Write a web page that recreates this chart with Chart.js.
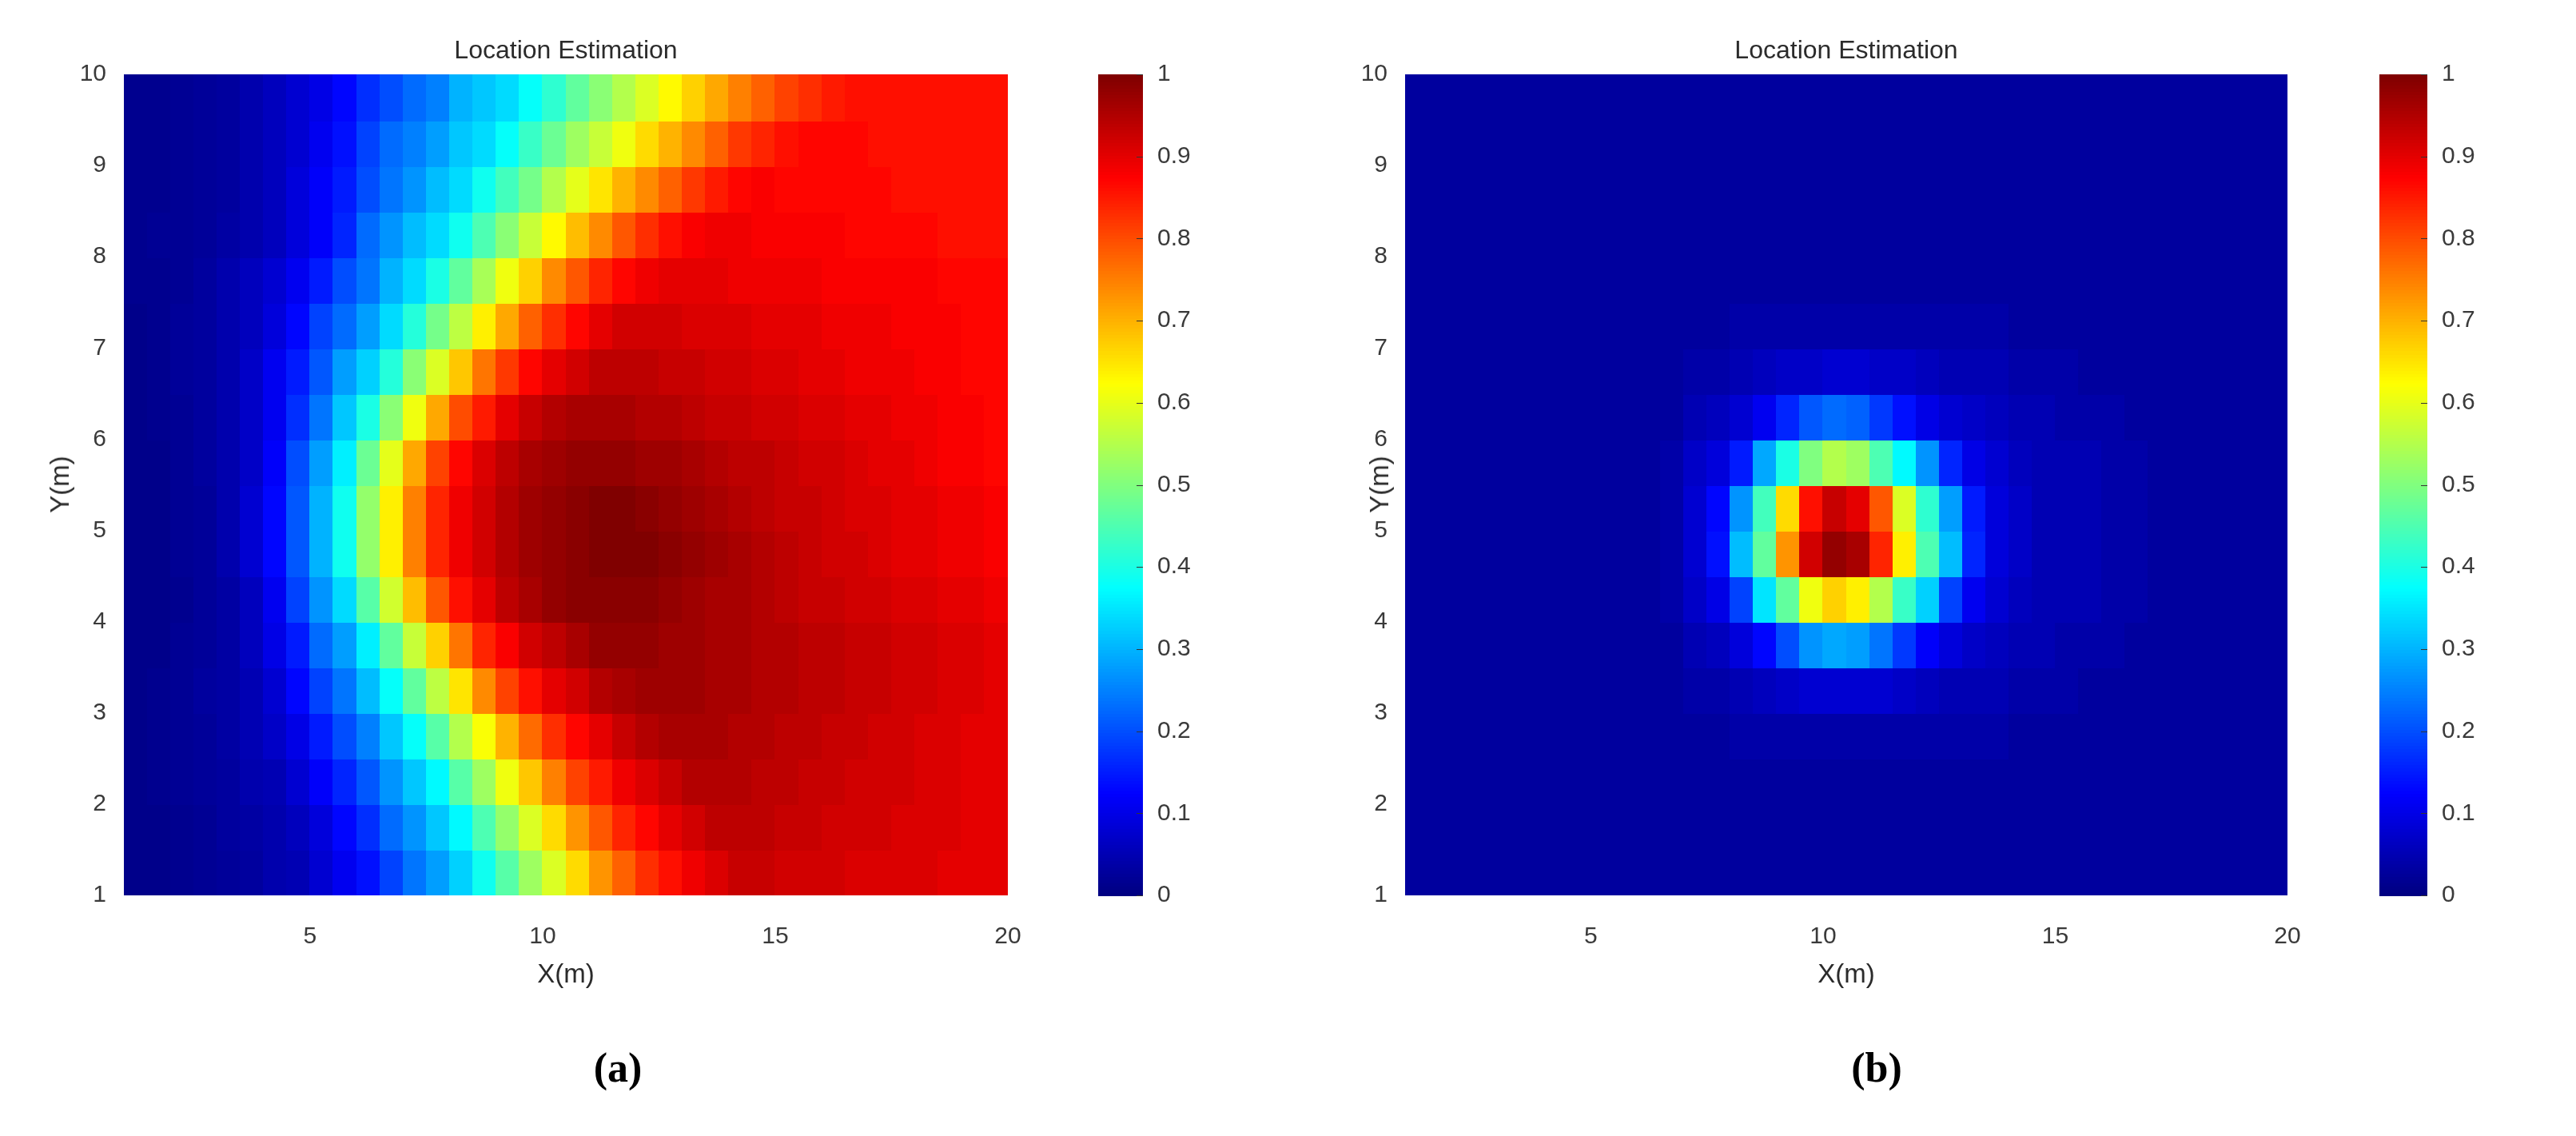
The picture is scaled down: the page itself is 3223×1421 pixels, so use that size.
<!DOCTYPE html>
<html><head><meta charset="utf-8">
<script src="https://cdn.jsdelivr.net/npm/chart.js@4.4.1/dist/chart.umd.min.js"></script>
<style>
html,body{margin:0;padding:0;background:#fff;width:3223px;height:1421px;overflow:hidden;font-family:"Liberation Sans",Arial,sans-serif;color:#333}
canvas{position:absolute;top:0}
.t{position:absolute;white-space:nowrap;transform:translate(-50%,-50%);color:#2b2b2b}
.cap{font-family:"Liberation Serif","DejaVu Serif",serif;font-weight:bold;font-size:52px;color:#000}
</style></head><body>
<canvas id="ca" style="left:0px" width="1611" height="1421"></canvas>
<canvas id="cba" style="left:1300px" width="250" height="1421"></canvas>
<canvas id="cb" style="left:1611px" width="1612" height="1421"></canvas>
<canvas id="cbb" style="left:2900px" width="250" height="1421"></canvas>
<div class="t" style="left:708px;top:62px;font-size:32px">Location Estimation</div>
<div class="t" style="left:2310px;top:62px;font-size:32px">Location Estimation</div>
<div class="t" style="left:708px;top:1218px;font-size:33px">X(m)</div>
<div class="t" style="left:2310px;top:1218px;font-size:33px">X(m)</div>
<div class="t" style="left:75px;top:606px;font-size:33px;transform:translate(-50%,-50%) rotate(-90deg)">Y(m)</div>
<div class="t" style="left:1726px;top:606px;font-size:33px;transform:translate(-50%,-50%) rotate(-90deg)">Y(m)</div>
<div class="t cap" style="left:773px;top:1335px">(a)</div>
<div class="t cap" style="left:2348px;top:1335px">(b)</div>
<script>
const xCenters=[1.25,1.75,2.25,2.75,3.25,3.75,4.25,4.75,5.25,5.75,6.25,6.75,7.25,7.75,8.25,8.75,9.25,9.75,10.25,10.75,11.25,11.75,12.25,12.75,13.25,13.75,14.25,14.75,15.25,15.75,16.25,16.75,17.25,17.75,18.25,18.75,19.25,19.75];
const yCenters=[1.25,1.75,2.25,2.75,3.25,3.75,4.25,4.75,5.25,5.75,6.25,6.75,7.25,7.75,8.25,8.75,9.25,9.75];
const xTicks=[5,10,15,20];
const yTicks=[1,2,3,4,5,6,7,8,9,10];
const cbTicks=[0,0.1,0.2,0.3,0.4,0.5,0.6,0.7,0.8,0.9,1];
const gridA=[
[.01,.01,.015,.02,.025,.03,.045,.05,.08,.11,.14,.19,.24,.28,.33,.39,.46,.53,.59,.66,.73,.78,.83,.86,.89,.91,.93,.93,.92,.92,.92,.91,.91,.91,.91,.9,.9,.9],
[.01,.01,.015,.02,.03,.035,.045,.06,.09,.13,.17,.23,.27,.32,.37,.45,.52,.59,.66,.73,.79,.84,.87,.90,.92,.94,.94,.94,.93,.93,.92,.92,.92,.91,.91,.91,.9,.9],
[.01,.015,.02,.025,.03,.045,.05,.08,.12,.16,.21,.27,.32,.37,.46,.53,.61,.68,.75,.81,.85,.89,.91,.93,.95,.95,.95,.94,.94,.93,.93,.92,.92,.92,.91,.91,.9,.9],
[.01,.015,.02,.025,.035,.05,.07,.10,.15,.20,.25,.32,.38,.46,.55,.62,.70,.77,.83,.87,.90,.93,.95,.96,.96,.96,.95,.95,.94,.94,.93,.93,.92,.92,.91,.91,.9,.9],
[.01,.015,.02,.03,.035,.05,.08,.13,.19,.24,.31,.38,.47,.56,.65,.74,.81,.86,.90,.92,.95,.96,.97,.97,.97,.96,.96,.95,.95,.94,.94,.93,.93,.92,.92,.91,.91,.9],
[.01,.01,.02,.025,.035,.06,.10,.15,.23,.28,.36,.47,.57,.67,.76,.84,.88,.92,.94,.96,.98,.98,.98,.97,.97,.96,.96,.95,.95,.94,.94,.93,.93,.92,.92,.91,.91,.9],
[.01,.01,.015,.025,.035,.06,.11,.19,.27,.34,.46,.58,.69,.79,.86,.90,.94,.96,.98,.99,.99,.99,.99,.98,.97,.96,.96,.95,.94,.93,.93,.92,.92,.91,.91,.9,.9,.89],
[.01,.01,.02,.025,.045,.08,.13,.21,.30,.39,.52,.64,.75,.84,.89,.92,.95,.97,.98,.99,1,1,1,.99,.98,.97,.96,.95,.94,.93,.92,.92,.91,.9,.9,.89,.89,.88],
[.01,.01,.02,.025,.045,.08,.13,.21,.30,.39,.52,.64,.75,.84,.89,.92,.95,.97,.98,.99,1,1,.99,.98,.97,.96,.95,.94,.93,.93,.92,.91,.91,.9,.9,.89,.89,.88],
[.01,.01,.02,.03,.045,.07,.12,.20,.28,.36,.48,.60,.71,.81,.87,.91,.94,.96,.97,.98,.98,.98,.97,.97,.96,.95,.94,.94,.93,.92,.92,.91,.9,.9,.89,.88,.88,.87],
[.01,.015,.02,.03,.045,.07,.11,.17,.24,.32,.40,.51,.61,.71,.80,.85,.90,.93,.95,.96,.96,.96,.95,.95,.94,.93,.93,.92,.92,.91,.91,.9,.9,.89,.89,.88,.88,.87],
[.01,.015,.025,.03,.045,.07,.11,.15,.21,.28,.33,.41,.51,.59,.68,.76,.82,.87,.90,.92,.94,.94,.94,.93,.93,.92,.92,.91,.91,.9,.9,.89,.89,.89,.88,.88,.87,.87],
[.01,.015,.025,.03,.045,.06,.09,.13,.19,.23,.28,.34,.41,.49,.56,.64,.71,.78,.83,.87,.90,.92,.92,.92,.91,.91,.91,.9,.9,.9,.89,.89,.89,.88,.88,.88,.87,.87],
[.015,.015,.02,.03,.045,.06,.08,.11,.15,.20,.24,.30,.34,.40,.47,.54,.61,.67,.74,.79,.84,.87,.89,.9,.9,.9,.89,.89,.89,.89,.88,.88,.88,.88,.88,.87,.87,.87],
[.015,.02,.02,.025,.035,.045,.06,.09,.12,.16,.23,.27,.31,.34,.39,.45,.51,.57,.63,.69,.74,.79,.83,.86,.88,.89,.89,.88,.88,.88,.88,.87,.87,.87,.87,.86,.86,.86],
[.015,.015,.02,.025,.03,.045,.06,.09,.12,.15,.20,.24,.27,.31,.34,.39,.44,.49,.55,.60,.65,.70,.74,.78,.82,.85,.87,.88,.87,.87,.87,.87,.87,.86,.86,.86,.86,.86],
[.015,.015,.02,.025,.03,.045,.06,.08,.11,.14,.19,.23,.25,.28,.32,.34,.38,.43,.48,.53,.57,.61,.66,.70,.74,.78,.82,.84,.86,.87,.87,.87,.86,.86,.86,.86,.86,.86],
[.015,.015,.02,.025,.03,.045,.06,.08,.10,.13,.17,.20,.23,.25,.30,.32,.34,.38,.42,.47,.51,.55,.59,.63,.67,.71,.75,.78,.81,.83,.85,.86,.86,.86,.86,.86,.86,.86]
];
const gridB=[
[.03,.03,.03,.03,.03,.03,.03,.03,.03,.03,.03,.03,.03,.03,.03,.03,.03,.03,.03,.03,.03,.03,.03,.03,.03,.03,.03,.03,.03,.03,.03,.03,.03,.03,.03,.03,.03,.03],
[.03,.03,.03,.03,.03,.03,.03,.03,.03,.03,.03,.03,.03,.03,.03,.03,.03,.03,.03,.03,.03,.03,.03,.03,.03,.03,.03,.03,.03,.03,.03,.03,.03,.03,.03,.03,.03,.03],
[.03,.03,.03,.03,.03,.03,.03,.03,.03,.03,.03,.03,.03,.03,.03,.03,.03,.03,.03,.03,.03,.03,.03,.03,.03,.03,.03,.03,.03,.03,.03,.03,.03,.03,.03,.03,.03,.03],
[.03,.03,.03,.03,.03,.03,.03,.03,.03,.03,.03,.03,.03,.03,.04,.04,.04,.04,.04,.04,.04,.04,.04,.04,.04,.04,.03,.03,.03,.03,.03,.03,.03,.03,.03,.03,.03,.03],
[.03,.03,.03,.03,.03,.03,.03,.03,.03,.03,.03,.03,.04,.04,.05,.06,.07,.08,.08,.08,.08,.07,.06,.05,.05,.05,.04,.04,.04,.03,.03,.03,.03,.03,.03,.03,.03,.03],
[.03,.03,.03,.03,.03,.03,.03,.03,.03,.03,.03,.03,.05,.06,.09,.13,.20,.27,.29,.28,.24,.18,.12,.09,.07,.06,.05,.05,.04,.04,.04,.03,.03,.03,.03,.03,.03,.03],
[.03,.03,.03,.03,.03,.03,.03,.03,.03,.03,.03,.04,.07,.10,.19,.35,.47,.61,.67,.64,.55,.43,.33,.19,.11,.08,.06,.05,.05,.05,.04,.04,.03,.03,.03,.03,.03,.03],
[.03,.03,.03,.03,.03,.03,.03,.03,.03,.03,.03,.04,.08,.14,.31,.47,.73,.92,.98,.96,.84,.64,.45,.31,.16,.09,.07,.05,.05,.05,.04,.04,.03,.03,.03,.03,.03,.03],
[.03,.03,.03,.03,.03,.03,.03,.03,.03,.03,.03,.04,.08,.13,.27,.44,.66,.86,.93,.90,.79,.59,.42,.28,.15,.09,.07,.05,.05,.05,.04,.04,.03,.03,.03,.03,.03,.03],
[.03,.03,.03,.03,.03,.03,.03,.03,.03,.03,.03,.04,.07,.09,.15,.29,.40,.50,.55,.53,.45,.37,.27,.16,.10,.08,.06,.05,.05,.05,.04,.04,.03,.03,.03,.03,.03,.03],
[.03,.03,.03,.03,.03,.03,.03,.03,.03,.03,.03,.03,.05,.06,.08,.11,.16,.21,.23,.22,.18,.14,.10,.08,.07,.06,.05,.05,.04,.04,.04,.03,.03,.03,.03,.03,.03,.03],
[.03,.03,.03,.03,.03,.03,.03,.03,.03,.03,.03,.03,.04,.04,.05,.06,.07,.07,.08,.08,.07,.07,.06,.05,.05,.05,.04,.04,.04,.03,.03,.03,.03,.03,.03,.03,.03,.03],
[.03,.03,.03,.03,.03,.03,.03,.03,.03,.03,.03,.03,.03,.03,.04,.04,.04,.04,.04,.04,.04,.04,.04,.04,.04,.04,.03,.03,.03,.03,.03,.03,.03,.03,.03,.03,.03,.03],
[.03,.03,.03,.03,.03,.03,.03,.03,.03,.03,.03,.03,.03,.03,.03,.03,.03,.03,.03,.03,.03,.03,.03,.03,.03,.03,.03,.03,.03,.03,.03,.03,.03,.03,.03,.03,.03,.03],
[.03,.03,.03,.03,.03,.03,.03,.03,.03,.03,.03,.03,.03,.03,.03,.03,.03,.03,.03,.03,.03,.03,.03,.03,.03,.03,.03,.03,.03,.03,.03,.03,.03,.03,.03,.03,.03,.03],
[.03,.03,.03,.03,.03,.03,.03,.03,.03,.03,.03,.03,.03,.03,.03,.03,.03,.03,.03,.03,.03,.03,.03,.03,.03,.03,.03,.03,.03,.03,.03,.03,.03,.03,.03,.03,.03,.03],
[.03,.03,.03,.03,.03,.03,.03,.03,.03,.03,.03,.03,.03,.03,.03,.03,.03,.03,.03,.03,.03,.03,.03,.03,.03,.03,.03,.03,.03,.03,.03,.03,.03,.03,.03,.03,.03,.03],
[.03,.03,.03,.03,.03,.03,.03,.03,.03,.03,.03,.03,.03,.03,.03,.03,.03,.03,.03,.03,.03,.03,.03,.03,.03,.03,.03,.03,.03,.03,.03,.03,.03,.03,.03,.03,.03,.03]
];

function jet(v){
  const c=t=>Math.round(255*Math.max(0,Math.min(1,t)));
  return `rgb(${c(1.5-Math.abs(4*v-3))},${c(1.5-Math.abs(4*v-2))},${c(1.5-Math.abs(4*v-1))})`;
}
const tickFont={family:'"Liberation Sans",Arial,sans-serif',size:30};
const tickColor='#3a3a3a';

function heatPlugin(grid){
  return {id:'heat',beforeDatasetsDraw(chart){
    const {ctx,scales:{x,y}}=chart;
    ctx.save();
    const a=chart.chartArea;
    ctx.beginPath();ctx.rect(a.left,a.top,a.right-a.left,a.bottom-a.top);ctx.clip();
    for(let r=0;r<yCenters.length;r++){
      for(let c=0;c<xCenters.length;c++){
        const x0=x.getPixelForValue(xCenters[c]-0.25),x1=x.getPixelForValue(xCenters[c]+0.25);
        const y0=y.getPixelForValue(yCenters[r]+0.25),y1=y.getPixelForValue(yCenters[r]-0.25);
        ctx.fillStyle=jet(grid[r][c]);
        ctx.fillRect(Math.floor(x0),Math.floor(y0),Math.ceil(x1-x0)+1,Math.ceil(y1-y0)+1);
      }
    }
    ctx.restore();
  }};
}

function makePanel(id,grid,pad){
  new Chart(document.getElementById(id),{
    type:'scatter',
    data:{datasets:[{data:[],pointRadius:0}]},
    options:{
      responsive:false,animation:false,devicePixelRatio:1,
      layout:{padding:pad},
      plugins:{legend:{display:false},tooltip:{enabled:false}},
      scales:{
        x:{type:'linear',min:1,max:20,grid:{display:false},border:{display:false},
           afterBuildTicks:s=>{s.ticks=xTicks.map(v=>({value:v}));},
           afterFit:s=>{s.height=60;},
           ticks:{font:tickFont,color:tickColor,padding:26,maxRotation:0}},
        y:{type:'linear',min:1,max:10,grid:{display:false},border:{display:false},
           afterBuildTicks:s=>{s.ticks=yTicks.map(v=>({value:v}));},
           afterFit:s=>{s.width=60;},
           ticks:{font:tickFont,color:tickColor,padding:14}}
      }
    },
    plugins:[heatPlugin(grid)]
  });
}
makePanel('ca',gridA,{left:95,right:350,top:93,bottom:241});
makePanel('cb',gridB,{left:87,right:361,top:93,bottom:241});

const cbPlugin={id:'cbar',beforeDatasetsDraw(chart){
  const {ctx,scales:{y}}=chart;const a=chart.chartArea;
  const n=256;
  for(let i=0;i<n;i++){
    const v0=i/n,v1=(i+1)/n;
    const p0=y.getPixelForValue(v1),p1=y.getPixelForValue(v0);
    ctx.fillStyle=jet((v0+v1)/2);
    ctx.fillRect(a.left,Math.floor(p0),a.right-a.left,Math.ceil(p1-p0)+1);
  }
  ctx.strokeStyle='#333';ctx.lineWidth=1;
  ctx.beginPath();
  for(const t of cbTicks){const p=Math.round(y.getPixelForValue(t))+0.5;ctx.moveTo(a.right-8,p);ctx.lineTo(a.right,p);}
  ctx.stroke();
}};
function makeBar(id,pad){
  new Chart(document.getElementById(id),{
    type:'scatter',data:{datasets:[{data:[],pointRadius:0}]},
    options:{responsive:false,animation:false,devicePixelRatio:1,layout:{padding:pad},
      plugins:{legend:{display:false},tooltip:{enabled:false}},
      scales:{
        x:{type:'linear',min:0,max:1,display:false},
        y:{type:'linear',position:'right',min:0,max:1,grid:{display:false},border:{display:false},
           afterBuildTicks:s=>{s.ticks=cbTicks.map(v=>({value:v}));},
           afterFit:s=>{s.width=70;},
           ticks:{font:tickFont,color:tickColor,padding:10,callback:v=>(v===0||v===1)?String(v):v.toFixed(1)}}
      }},
    plugins:[cbPlugin]
  });
}
makeBar('cba',{left:74,right:50,top:93,bottom:301});
makeBar('cbb',{left:77,right:43,top:93,bottom:301});
</script></body></html>
